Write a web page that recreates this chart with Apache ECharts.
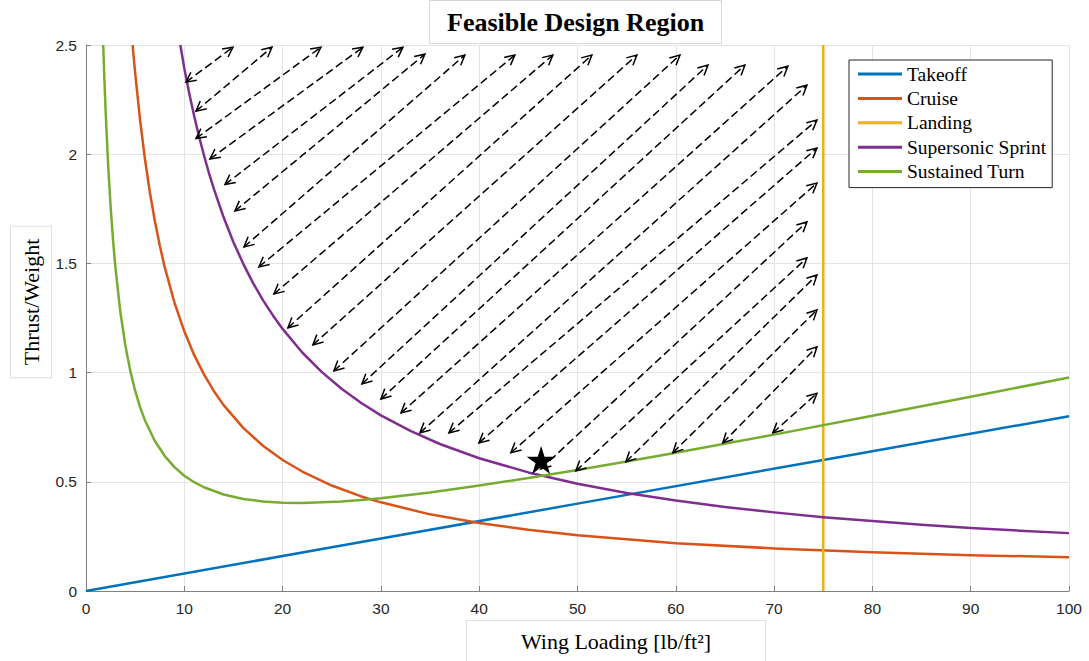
<!DOCTYPE html>
<html>
<head>
<meta charset="utf-8">
<script src="https://cdn.jsdelivr.net/npm/echarts@6/dist/echarts.min.js"></script>
<style>
  html, body { margin: 0; padding: 0; background: #fff; }
  #chart { width: 1089px; height: 661px; }
</style>
</head>
<body>
<div id="chart"></div>
<script>
// ---- Data ----
const xTicks = [0, 10, 20, 30, 40, 50, 60, 70, 80, 90, 100];
const yTicks = [0, 0.5, 1, 1.5, 2, 2.5];
const seriesNames = ['Takeoff', 'Cruise', 'Landing', 'Supersonic Sprint', 'Sustained Turn'];

const takeoffData = [[0, 0], [25, 0.2], [50, 0.4], [75, 0.6], [100, 0.8]];

const cruiseData = [
  [4.74, 2.5], [5, 2.372], [5.5, 2.157], [6, 1.977], [6.5, 1.825], [7, 1.695],
  [7.5, 1.583], [8, 1.484], [9, 1.32], [10, 1.189], [11, 1.081], [12, 0.992],
  [13, 0.916], [14, 0.851], [16, 0.747], [18, 0.665], [20, 0.60], [22, 0.547],
  [25, 0.483], [28, 0.433], [30, 0.406], [35, 0.351], [40, 0.311], [45, 0.28],
  [50, 0.255], [60, 0.219], [70, 0.195], [80, 0.177], [90, 0.164], [100, 0.155]
];

const landingData = [[75, 0], [75, 2.5]];

const sprintData = [
  [9.6, 2.5], [10, 2.393], [10.5, 2.279], [11, 2.176], [11.5, 2.081], [12, 1.995],
  [12.5, 1.915], [13, 1.842], [14, 1.711], [15, 1.597], [16, 1.498], [17, 1.41],
  [18, 1.332], [19, 1.263], [20, 1.2], [22, 1.092], [24, 1.002], [26, 0.926],
  [28, 0.861], [30, 0.804], [33, 0.733], [36, 0.673], [40, 0.608], [45, 0.543],
  [50, 0.491], [55, 0.449], [60, 0.414], [65, 0.385], [70, 0.36], [75, 0.338],
  [80, 0.32], [85, 0.303], [90, 0.289], [95, 0.276], [100, 0.265]
];

const turnData = [
  [1.75, 2.5], [1.85, 2.369], [2, 2.194], [2.25, 1.954], [2.5, 1.763], [2.75, 1.607],
  [3, 1.478], [3.5, 1.276], [4, 1.125], [4.5, 1.009], [5, 0.917], [5.5, 0.842],
  [6, 0.781], [7, 0.687], [8, 0.619], [9, 0.567], [10, 0.528], [11, 0.498],
  [12, 0.475], [14, 0.442], [16, 0.421], [18, 0.41], [20, 0.404], [22, 0.403],
  [24, 0.406], [26, 0.41], [28, 0.417], [30, 0.425], [35, 0.451], [40, 0.483],
  [45, 0.517], [50, 0.554], [55, 0.593], [60, 0.633], [70, 0.716], [80, 0.802],
  [90, 0.889], [100, 0.978]
];

// double-headed dashed arrows: lower-left tip and upper-right tip
const arrowTail = [
  [10.17, 2.33], [11.19, 2.197], [11.19, 2.072], [12.61, 1.978], [14.14, 1.861],
  [15.15, 1.740], [16.07, 1.575], [17.59, 1.484], [19.12, 1.360], [20.54, 1.205],
  [23.08, 1.127], [25.22, 1.008], [28.07, 0.948], [30.00, 0.879], [32.04, 0.815],
  [33.97, 0.724], [36.92, 0.724], [39.97, 0.678], [43.22, 0.633], [46.27, 0.559],
  [49.83, 0.550], [54.92, 0.591], [59.70, 0.633], [64.78, 0.678], [69.87, 0.724]
];
const arrowHead = [
  [14.95, 2.49], [18.92, 2.49], [23.90, 2.49], [28.17, 2.49], [32.24, 2.49],
  [34.48, 2.458], [38.54, 2.454], [43.63, 2.454], [47.49, 2.454], [51.46, 2.454],
  [56.04, 2.454], [60.42, 2.454], [63.27, 2.408], [67.03, 2.408], [71.40, 2.403],
  [73.34, 2.316], [74.36, 2.156], [74.36, 2.028], [74.36, 1.868], [73.34, 1.690],
  [73.34, 1.525], [74.36, 1.447], [74.36, 1.287], [74.36, 1.118], [74.36, 0.905]
];

const designPoint = [[46.3, 0.6]];

// ---- Chart ----
const colors = ['#0072BD', '#D95319', '#EDB120', '#7E2F8E', '#77AC30'];
const serif = "'Liberation Serif', 'Times New Roman', serif";
const sans = "'Liberation Sans', Arial, sans-serif";

const arrowData = arrowTail.map((t, i) => [t[0], t[1], arrowHead[i][0], arrowHead[i][1]]);

function renderArrow(params, api) {
  const p1 = api.coord([api.value(0), api.value(1)]);
  const p2 = api.coord([api.value(2), api.value(3)]);
  const dx = p2[0] - p1[0], dy = p2[1] - p1[1];
  const len = Math.sqrt(dx * dx + dy * dy);
  const ux = dx / len, uy = dy / len;
  const L = 11, ang = 27 * Math.PI / 180;
  const c = Math.cos(ang), s = Math.sin(ang);
  function head(p, vx, vy) {
    const a1 = [p[0] + L * (vx * c - vy * s), p[1] + L * (vx * s + vy * c)];
    const a2 = [p[0] + L * (vx * c + vy * s), p[1] + L * (-vx * s + vy * c)];
    return {
      type: 'polyline',
      shape: { points: [a1, p, a2] },
      style: { stroke: '#000', lineWidth: 1.5, fill: null }
    };
  }
  return {
    type: 'group',
    children: [
      {
        type: 'line',
        shape: { x1: p1[0], y1: p1[1], x2: p2[0], y2: p2[1] },
        style: { stroke: '#000', lineWidth: 1.5, lineDash: [8, 4] }
      },
      head(p1, ux, uy),
      head(p2, -ux, -uy)
    ]
  };
}

const starPath = 'path://M50,0 L61.2,34.5 L97.6,34.5 L68.2,55.9 L79.4,90.5 L50,69.1 L20.6,90.5 L31.8,55.9 L2.4,34.5 L38.8,34.5 Z';

function lineSeries(name, data, color, width) {
  return {
    name: name,
    type: 'line',
    data: data,
    smooth: false,
    symbol: 'none',
    showSymbol: false,
    color: color,
    lineStyle: { color: color, width: width, join: 'round' },
    itemStyle: { color: color },
    z: 3
  };
}

const chart = echarts.init(document.getElementById('chart'), null, { renderer: 'svg' });
chart.setOption({
  animation: false,
  backgroundColor: '#fff',
  color: colors,
  title: {
    text: 'Feasible Design Region',
    left: 429,
    top: 0,
    padding: [8, 18, 8, 18],
    backgroundColor: '#fff',
    borderColor: '#d9d9d9',
    borderWidth: 1,
    textStyle: { fontFamily: serif, fontWeight: 'bold', fontSize: 26, color: '#000', lineHeight: 28 }
  },
  legend: {
    data: seriesNames,
    orient: 'vertical',
    left: 849,
    top: 60,
    padding: [4, 6, 6, 9],
    itemGap: 4.4,
    itemWidth: 44,
    itemHeight: 3,
    icon: 'rect',
    backgroundColor: '#fff',
    borderColor: '#262626',
    borderWidth: 1,
    textStyle: { fontFamily: serif, fontSize: 19.5, color: '#000', lineHeight: 20 }
  },
  grid: { left: 86, top: 45, width: 983, height: 546, containLabel: false },
  xAxis: {
    type: 'value',
    min: xTicks[0],
    max: xTicks[xTicks.length - 1],
    interval: xTicks[1] - xTicks[0],
    axisLine: { show: true, lineStyle: { color: '#808080', width: 1 } },
    axisTick: { show: true, inside: true, length: 5, lineStyle: { color: '#808080' } },
    axisLabel: { fontFamily: sans, fontSize: 15.5, color: '#262626', margin: 9 },
    splitLine: { show: true, lineStyle: { color: '#e4e4e4', width: 1 } }
  },
  yAxis: {
    type: 'value',
    min: yTicks[0],
    max: yTicks[yTicks.length - 1],
    interval: yTicks[1] - yTicks[0],
    axisLine: { show: true, lineStyle: { color: '#808080', width: 1 } },
    axisTick: { show: true, inside: true, length: 5, lineStyle: { color: '#808080' } },
    axisLabel: { fontFamily: sans, fontSize: 15.5, color: '#262626', margin: 9 },
    splitLine: { show: true, lineStyle: { color: '#e4e4e4', width: 1 } }
  },
  graphic: [
    {
      type: 'text',
      x: 616,
      y: 641,
      z: 10,
      style: {
        text: 'Wing Loading [lb/ft²]',
        font: '22px ' + serif,
        fill: '#000',
        align: 'center',
        verticalAlign: 'middle',
        backgroundColor: '#fff',
        borderColor: '#e0e0e0',
        borderWidth: 1,
        padding: [9, 54, 9, 54]
      }
    },
    {
      type: 'text',
      x: 31,
      y: 302,
      rotation: Math.PI / 2,
      z: 10,
      style: {
        text: 'Thrust/Weight',
        font: '22px ' + serif,
        fill: '#000',
        align: 'center',
        verticalAlign: 'middle',
        backgroundColor: '#fff',
        borderColor: '#e0e0e0',
        borderWidth: 1,
        padding: [9, 12, 9, 12]
      }
    }
  ],
  series: [
    lineSeries(seriesNames[0], takeoffData, colors[0], 2.5),
    lineSeries(seriesNames[1], cruiseData, colors[1], 2.5),
    lineSeries(seriesNames[2], landingData, colors[2], 2.6),
    lineSeries(seriesNames[3], sprintData, colors[3], 2.5),
    lineSeries(seriesNames[4], turnData, colors[4], 2.5),
    {
      name: 'arrows',
      type: 'custom',
      coordinateSystem: 'cartesian2d',
      renderItem: renderArrow,
      data: arrowData,
      encode: { x: [0, 2], y: [1, 3] },
      clip: false,
      silent: true,
      z: 5
    },
    {
      name: 'design point',
      type: 'scatter',
      data: designPoint,
      symbol: starPath,
      symbolSize: [29, 28],
      itemStyle: { color: '#000', opacity: 1 },
      silent: true,
      z: 6
    }
  ]
});
</script>
</body>
</html>
